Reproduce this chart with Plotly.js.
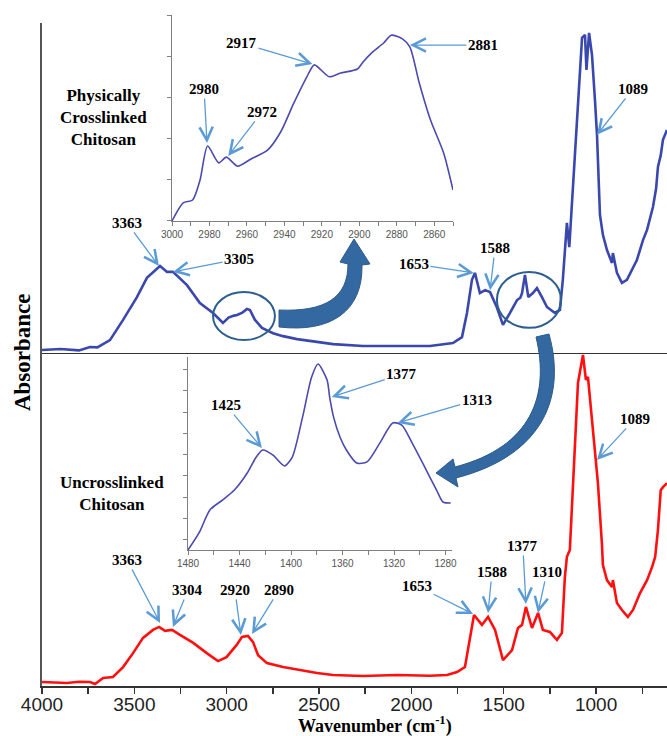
<!DOCTYPE html>
<html>
<head>
<meta charset="utf-8">
<script src="https://cdn.plot.ly/plotly-3.0.1.min.js"></script>
<style>html,body{margin:0;padding:0;background:#fff}#chart{width:667px;height:736px}</style>
</head>
<body>
<div id="chart"></div>
<script>
// ---- Physically crosslinked chitosan (top, blue) ----
const wnBlue = [4000,3900,3800,3740,3700,3632,3561,3486,3432,3377,3361,3323,3291,3215,3145,3074,3020,2990,2982,2960,2944,2915,2890,2874,2847,2809,2749,2695,2619,2511,2424,2262,2100,1899,1775,1726,1699,1672,1656,1629,1601,1574,1538,1504,1466,1428,1410,1401,1385,1367,1342,1320,1293,1266,1223,1196,1180,1158,1145,1114,1087,1076,1060,1052,1038,1022,1006,995,979,963,941,914,909,887,860,833,779,746,724,692,675,665,650,638,616];
const absBlue = [0.012,0.015,0.011,0.021,0.020,0.042,0.103,0.172,0.230,0.260,0.266,0.248,0.248,0.208,0.154,0.124,0.094,0.110,0.112,0.116,0.118,0.125,0.136,0.133,0.103,0.079,0.063,0.054,0.045,0.036,0.030,0.024,0.025,0.024,0.033,0.051,0.124,0.224,0.245,0.184,0.193,0.187,0.142,0.088,0.124,0.163,0.170,0.184,0.239,0.172,0.184,0.199,0.172,0.142,0.124,0.133,0.224,0.396,0.323,0.616,0.858,0.955,0.964,0.858,0.970,0.903,0.767,0.662,0.420,0.360,0.314,0.275,0.305,0.245,0.215,0.224,0.284,0.344,0.375,0.444,0.500,0.565,0.600,0.647,0.677];

// ---- Uncrosslinked chitosan (bottom, red) ----
const wnRed = [4000,3865,3800,3740,3713,3669,3616,3561,3507,3453,3399,3366,3334,3296,3253,3181,3108,3047,3001,2947,2917,2885,2858,2830,2782,2695,2603,2511,2424,2262,2078,1900,1807,1753,1710,1683,1661,1618,1585,1547,1504,1455,1423,1401,1380,1347,1314,1288,1250,1212,1185,1169,1158,1142,1125,1098,1071,1055,1044,1017,990,968,963,941,914,909,887,860,828,800,762,724,697,680,665,650,638,616];
const absRed = [0.012,0.009,0.013,0.012,0.006,0.024,0.027,0.057,0.099,0.145,0.169,0.178,0.166,0.169,0.154,0.130,0.099,0.075,0.087,0.123,0.148,0.151,0.133,0.093,0.069,0.057,0.048,0.039,0.033,0.030,0.033,0.031,0.033,0.042,0.057,0.139,0.214,0.184,0.208,0.169,0.078,0.108,0.175,0.184,0.238,0.175,0.220,0.169,0.163,0.139,0.160,0.328,0.389,0.410,0.611,0.913,0.997,0.922,0.931,0.762,0.611,0.425,0.364,0.319,0.298,0.319,0.250,0.229,0.208,0.229,0.280,0.319,0.358,0.389,0.470,0.590,0.599,0.611];

// ---- Inset 1: C-H stretching region (physically crosslinked) ----
const wnInset1 = [3000,2994,2989,2985,2981,2975,2971,2965,2958,2949,2942,2935,2928,2924,2916,2910,2901,2898,2893,2887,2883,2877,2873,2868,2862,2855,2850];
const absInset1 = [0,0.44,0.51,1.0,1.82,1.41,1.55,1.33,1.50,1.72,2.16,2.86,3.50,3.79,3.50,3.59,3.69,3.86,4.10,4.32,4.51,4.42,4.22,3.35,2.45,1.65,0.75];

// ---- Inset 2: 1480-1275 region ----
const wnInset2 = [1480,1471,1463,1453,1444,1434,1427,1422,1414,1405,1399,1391,1384,1379,1372,1370,1367,1362,1357,1349,1341,1331,1321,1314,1306,1295,1287,1282,1276];
const absInset2 = [-0.47,0.38,1.41,1.88,2.34,3.14,3.89,4.22,3.98,3.47,3.89,5.77,7.64,8.25,7.50,6.70,5.77,4.83,4.22,3.61,3.66,4.55,5.49,5.39,4.55,3.28,2.34,1.78,1.73];

// ---- tick labels ----
const mainTicks = [4000,3750,3500,3250,3000,2750,2500,2250,2000,1750,1500,1250,1000,750];
const mainTickText = mainTicks.map(v => v % 500 === 0 ? String(v) : ' ');
const inset1Ticks = [3000,2990,2980,2970,2960,2950,2940,2930,2920,2910,2900,2890,2880,2870,2860,2850];
const inset1TickText = inset1Ticks.map(v => v % 20 === 0 && v >= 2860 ? String(v) : ' ');
const inset2Ticks = [1480,1460,1440,1420,1400,1380,1360,1340,1320,1300,1280];
const inset2TickText = inset2Ticks.map(v => v % 40 === 0 ? String(v) : ' ');

// ---- peak labels: [text, wavenumber, value, xref, yref, dx, dy] ----
const peakLabels = [
  ['3363', 3367, 0.266, 'x', 'y2', -32, -43],
  ['3305', 3291, 0.248, 'x', 'y2', 66, -13],
  ['1653', 1662, 0.245, 'x', 'y2', -60, -9],
  ['1588', 1574, 0.193, 'x', 'y2', 5, -42],
  ['1089', 995, 0.662, 'x', 'y2', 36, -46],
  ['2980', 2981.3, 1.89, 'x2', 'y3', -3, -54],
  ['2972', 2970, 1.58, 'x2', 'y3', 34, -44],
  ['2917', 2925, 3.81, 'x2', 'y3', -71, -21],
  ['2881', 2873, 4.27, 'x2', 'y3', 73, 0],
  ['1425', 1422.6, 4.31, 'x3', 'y4', -36, -43],
  ['1377', 1368.4, 6.70, 'x3', 'y4', 70, -23],
  ['1313', 1317.2, 5.49, 'x3', 'y4', 79, -23],
  ['3363', 3361, 0.190, 'x', 'y', -33, -63],
  ['3304', 3291, 0.178, 'x', 'y', 15, -37],
  ['2920', 2923, 0.154, 'x', 'y', -6, -45],
  ['2890', 2863, 0.157, 'x', 'y', 27, -44],
  ['1653', 1666, 0.217, 'x', 'y', -56, -28],
  ['1588', 1585, 0.220, 'x', 'y', 4, -41],
  ['1377', 1380, 0.247, 'x', 'y', -3, -58],
  ['1310', 1315, 0.220, 'x', 'y', 9, -41],
  ['1089', 995, 0.681, 'x', 'y', 38, -41]
];

const serif = 'Liberation Serif, Times New Roman, serif';
const sans = 'Liberation Sans, Arial, sans-serif';

const traces = [
  {x: wnRed, y: absRed, xaxis: 'x', yaxis: 'y', mode: 'lines', line: {color: '#ff1010', width: 2.6}, hoverinfo: 'skip'},
  {x: wnBlue, y: absBlue, xaxis: 'x', yaxis: 'y2', mode: 'lines', line: {color: '#3a48ad', width: 2.6}, hoverinfo: 'skip'},
  {x: wnInset1, y: absInset1, xaxis: 'x2', yaxis: 'y3', mode: 'lines', line: {color: '#4a4ab0', width: 1.6, shape: 'spline', smoothing: 0.7}, hoverinfo: 'skip'},
  {x: wnInset2, y: absInset2, xaxis: 'x3', yaxis: 'y4', mode: 'lines', line: {color: '#4a4ab0', width: 1.6, shape: 'spline', smoothing: 0.7}, hoverinfo: 'skip'}
];

// pixel -> paper helper for decorative curved arrows (margins l=42,t=10,b=50)
const W = 667, H = 736, ML = 42, MT = 10, MB = 50;
const PW = W - ML, PH = H - MT - MB;
function P(px, py) { return ((px - ML) / PW).toFixed(4) + ',' + ((H - MB - py) / PH).toFixed(4); }

const arrowTop = `M ${P(279,310)} L ${P(279,327)} C ${P(330,333)} ${P(363,312)} ${P(362,265)} L ${P(370,264)} L ${P(354,239)} L ${P(340,262)} L ${P(348,264)} C ${P(348,298)} ${P(325,312)} ${P(279,310)} Z`;
const arrowBottom = `M ${P(536,337)} L ${P(549,334)} C ${P(566,395)} ${P(545,455)} ${P(456,478)} L ${P(458,487)} L ${P(436,473)} L ${P(453,459)} L ${P(455,467)} C ${P(532,447)} ${P(550,395)} ${P(536,337)} Z`;

const shapes = [
  {type: 'line', xref: 'paper', x0: 0, x1: 1, yref: 'y2', y0: 0, y1: 0, line: {color: '#333', width: 2}},
  {type: 'circle', xref: 'x', yref: 'y2', x0: 3074, x1: 2739, y0: 0.042, y1: 0.187, line: {color: '#2d5f8e', width: 2}},
  {type: 'circle', xref: 'x', yref: 'y2', x0: 1537, x1: 1190, y0: 0.079, y1: 0.248, line: {color: '#2d5f8e', width: 2}},
  {type: 'path', xref: 'paper', yref: 'paper', path: arrowTop, fillcolor: '#3468a0', line: {color: '#2a5a8c', width: 1}},
  {type: 'path', xref: 'paper', yref: 'paper', path: arrowBottom, fillcolor: '#3468a0', line: {color: '#2a5a8c', width: 1}}
];

const annotations = peakLabels.map(p => ({
  text: '<b>' + p[0] + '</b>', x: p[1], y: p[2], xref: p[3], yref: p[4],
  ax: p[5], ay: p[6], showarrow: true, arrowhead: 5, arrowsize: 2, arrowwidth: 1.3,
  arrowcolor: '#5b9bd5', font: {family: serif, size: 15, color: '#000'}
}));
const fixed = {xref: 'paper', yref: 'paper', showarrow: false, xanchor: 'center', yanchor: 'middle'};
annotations.push(
  Object.assign({}, fixed, {text: '<b>Physically<br>Crosslinked<br>Chitosan</b>', x: 0.0976, y: 0.8417, font: {family: serif, size: 17, color: '#000'}}),
  Object.assign({}, fixed, {text: '<b>Uncrosslinked<br>Chitosan</b>', x: 0.112, y: 0.2855, font: {family: serif, size: 17, color: '#000'}}),
  Object.assign({}, fixed, {text: '<b>Absorbance</b>', x: -0.032, y: 0.494, textangle: -90, font: {family: serif, size: 23, color: '#000'}}),
  Object.assign({}, fixed, {text: '<b>Wavenumber (cm<sup>-1</sup>)</b>', x: 0.533, y: -0.0570, font: {family: serif, size: 18, color: '#000'}})
);

const insetAxis = {showline: true, linecolor: '#808080', linewidth: 1.3, ticks: 'outside', ticklen: 4, tickcolor: '#808080', tickwidth: 1, showgrid: false, zeroline: false, tickfont: {family: sans, size: 10, color: '#555'}};

const layout = {
  width: W, height: H,
  margin: {l: ML, r: 0, t: MT, b: MB},
  paper_bgcolor: '#fff', plot_bgcolor: 'rgba(0,0,0,0)',
  showlegend: false,
  xaxis: {domain: [0, 1], range: [4000, 616], anchor: 'y', showline: true, linecolor: '#333', linewidth: 2,
          ticks: 'outside', ticklen: 6, tickwidth: 1.5, tickcolor: '#333', tickvals: mainTicks, ticktext: mainTickText,
          ticklabelstandoff: -6,
          tickfont: {family: sans, size: 19, color: '#222'}, showgrid: false, zeroline: false},
  yaxis: {domain: [0, 0.4911], range: [0, 1], anchor: 'x', showline: true, linecolor: '#555', linewidth: 2,
          showticklabels: false, ticks: '', showgrid: false, zeroline: false},
  yaxis2: {domain: [0.4911, 0.9808], range: [0, 1], anchor: 'x', showline: true, linecolor: '#555', linewidth: 2,
          showticklabels: false, ticks: '', showgrid: false, zeroline: false},
  xaxis2: Object.assign({}, insetAxis, {domain: [0.208, 0.6576], range: [3000, 2850], anchor: 'y3', tickvals: inset1Ticks, ticktext: inset1TickText}),
  yaxis3: Object.assign({}, insetAxis, {domain: [0.6879, 0.9926], range: [0, 5], anchor: 'x2', dtick: 1, showticklabels: false}),
  xaxis3: Object.assign({}, insetAxis, {domain: [0.2336, 0.656], range: [1480, 1275], anchor: 'y4', tickvals: inset2Ticks, ticktext: inset2TickText}),
  yaxis4: Object.assign({}, insetAxis, {domain: [0.2012, 0.4867], range: [-0.47, 8.58], anchor: 'x3', tick0: 0, dtick: 1, showticklabels: false}),
  shapes: shapes,
  annotations: annotations
};

Plotly.newPlot('chart', traces, layout, {staticPlot: true, displayModeBar: false});
</script>
</body>
</html>
